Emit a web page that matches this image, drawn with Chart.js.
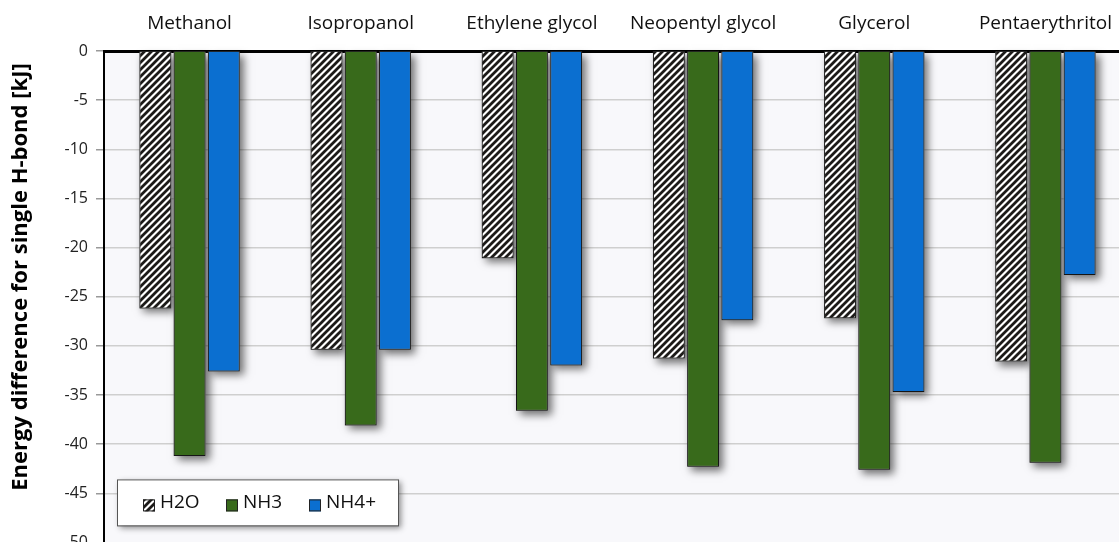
<!DOCTYPE html>
<html>
<head>
<meta charset="utf-8">
<script src="https://cdn.jsdelivr.net/npm/chart.js@4"></script>
<style>
  html, body { margin: 0; padding: 0; background: #fff; }
  #wrap { width: 1119px; height: 542px; position: relative; overflow: hidden; }
</style>
</head>
<body>
<div id="wrap"><canvas id="hbondChart" width="1132" height="560"></canvas></div>
<script>
const categories = ['Methanol', 'Isopropanol', 'Ethylene glycol', 'Neopentyl glycol', 'Glycerol', 'Pentaerythritol'];
const h2oValues = [-26.2, -30.4, -21.1, -31.3, -27.2, -31.6];
const nh3Values = [-41.2, -38.1, -36.6, -42.3, -42.6, -41.9];
const nh4Values = [-32.6, -30.4, -32.0, -27.4, -34.7, -22.8];
const yTicks = [0, -5, -10, -15, -20, -25, -30, -35, -40, -45, -50];
const yTitle = 'Energy difference for single H-bond [kJ]';

const FONT = "'Open Sans', 'Noto Sans', sans-serif";

// diagonal hatch for the H2O bars
function makeHatch() {
    const c = document.createElement('canvas');
    c.width = 7; c.height = 7;
    const g = c.getContext('2d');
    g.fillStyle = '#ffffff';
    g.fillRect(0, 0, 7, 7);
    g.strokeStyle = '#1c1a18';
    g.lineWidth = 2.8;
    g.beginPath();
    g.moveTo(-1, 8); g.lineTo(8, -1);
    g.moveTo(-1, 1); g.lineTo(1, -1);
    g.moveTo(6, 8); g.lineTo(8, 6);
    g.stroke();
    return g.createPattern(c, 'repeat');
}
const hatch = makeHatch();

const plotBackground = {
    id: 'plotBackground',
    beforeDraw(chart) {
        const { ctx, chartArea: a } = chart;
        ctx.save();
        ctx.fillStyle = '#f8f8fb';
        ctx.fillRect(a.left, a.top, a.right - a.left, a.bottom - a.top);
        ctx.restore();
    }
};

// bars clip themselves, so paint the drop shadows underneath first
const barShadow = {
    id: 'barShadow',
    beforeDatasetsDraw(chart) {
        const ctx = chart.ctx;
        ctx.save();
        ctx.shadowColor = 'rgba(0,0,0,0.55)';
        ctx.shadowBlur = 8;
        ctx.shadowOffsetX = 4;
        ctx.shadowOffsetY = 4;
        ctx.fillStyle = '#888';
        chart.data.datasets.forEach((ds, i) => {
            chart.getDatasetMeta(i).data.forEach(bar => {
                const { x, y, base, width } = bar.getProps(['x', 'y', 'base', 'width'], true);
                const top = Math.min(y, base);
                ctx.fillRect(x - width / 2, top, width, Math.abs(base - y));
            });
        });
        ctx.restore();
    }
};

const sideTitle = {
    id: 'sideTitle',
    afterDraw(chart) {
        const ctx = chart.ctx;
        ctx.save();
        ctx.translate(21, 277);
        ctx.rotate(-Math.PI / 2);
        ctx.font = 'bold 22px ' + FONT;
        ctx.fillStyle = '#000';
        ctx.textAlign = 'center';
        ctx.textBaseline = 'middle';
        ctx.fillText(yTitle, 0, 0);
        ctx.restore();
    }
};

const boxLegend = {
    id: 'boxLegend',
    afterDraw(chart) {
        const { ctx, chartArea: a } = chart;
        const x = a.left + 13, y = a.bottom - 63, w = 281, h = 46;
        ctx.save();
        ctx.shadowColor = 'rgba(0,0,0,0.45)';
        ctx.shadowBlur = 6;
        ctx.shadowOffsetX = 3;
        ctx.shadowOffsetY = 3;
        ctx.fillStyle = '#ffffff';
        ctx.fillRect(x, y, w, h);
        ctx.shadowColor = 'transparent';
        ctx.strokeStyle = '#555';
        ctx.lineWidth = 1;
        ctx.strokeRect(x + 0.5, y + 0.5, w, h);
        const items = chart.data.datasets.map(ds => ({ label: ds.label, fill: ds.backgroundColor }));
        const offsets = [26, 109, 192];
        ctx.font = '19px ' + FONT;
        ctx.textBaseline = 'middle';
        items.forEach((it, i) => {
            const sx = x + offsets[i], sy = y + 20;
            ctx.fillStyle = it.fill;
            ctx.fillRect(sx, sy, 12, 12);
            ctx.strokeStyle = '#222';
            ctx.strokeRect(sx + 0.5, sy + 0.5, 11, 11);
            ctx.fillStyle = '#111';
            ctx.fillText(it.label, sx + 17, y + 23);
        });
        ctx.restore();
    }
};

new Chart(document.getElementById('hbondChart'), {
    type: 'bar',
    data: {
        labels: categories,
        datasets: [
            { label: 'H2O', data: h2oValues, backgroundColor: hatch },
            { label: 'NH3', data: nh3Values, backgroundColor: '#386a1b' },
            { label: 'NH4+', data: nh4Values, backgroundColor: '#0b6fd0' }
        ]
    },
    options: {
        responsive: false,
        animation: false,
        layout: { padding: { bottom: 2, right: 1 } },
        datasets: {
            bar: {
                borderColor: '#151515',
                borderWidth: 1,
                barPercentage: 0.93,
                categoryPercentage: 0.6
            }
        },
        plugins: {
            legend: { display: false },
            tooltip: { enabled: false }
        },
        scales: {
            x: {
                position: 'top',
                grid: { display: false },
                border: { display: true, color: '#000', width: 3 },
                ticks: { color: '#111', font: { family: FONT, size: 19 }, padding: 8 },
                afterFit(scale) { scale.height = 51; }
            },
            y: {
                min: -50,
                max: 0,
                afterBuildTicks(scale) { scale.ticks = yTicks.map(v => ({ value: v })); },
                grid: { color: '#cfcfcf', lineWidth: 1.5, tickLength: 8, tickColor: '#999' },
                border: { display: true, color: '#000', width: 2 },
                ticks: { color: '#222', font: { family: FONT, size: 16 }, padding: 8 },
                afterFit(scale) { scale.width = 104; }
            }
        }
    },
    plugins: [plotBackground, barShadow, sideTitle, boxLegend]
});
</script>
</body>
</html>
